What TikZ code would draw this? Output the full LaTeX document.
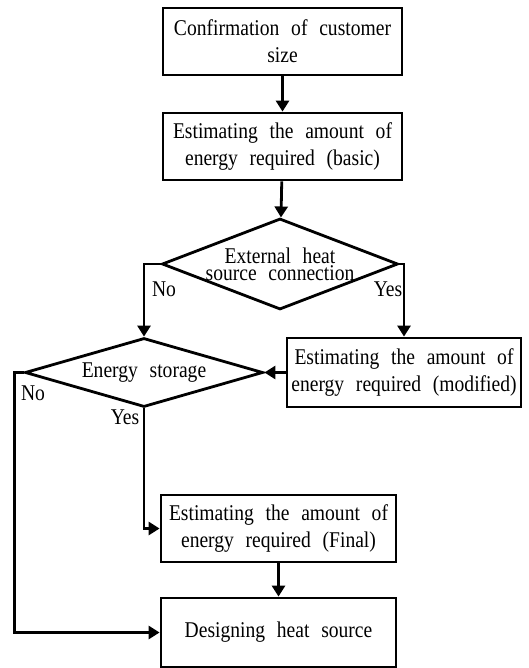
\documentclass[tikz,border=0pt]{standalone}
\usepackage{fontspec}
\setmainfont[WordSpace=2.4,FakeStretch=0.87]{Liberation Serif}
\usetikzlibrary{calc,arrows.meta,shapes.geometric}
\newcommand{\flowfont}{\fontsize{22.5}{27}\selectfont}
\tikzset{
  flowbox/.style={draw,line width=2.8pt,inner sep=0pt,align=center,font=\flowfont},
  decision/.style={draw,diamond,line width=2.8pt,inner sep=0pt,aspect=2},
  flowarrow/.style={line width=2.8pt,-{Triangle[length=11pt,width=13pt]}},
  answer/.style={font=\flowfont}
}

\begin{document}
\begin{tikzpicture}[x=1pt,y=-1pt]
        \useasboundingbox (0,0) rectangle (529,668);

        \node[flowbox,minimum width=239pt,minimum height=67pt] (size) at (282.5,41.5)
            {Confirmation of customer\\size};
        \node[flowbox,minimum width=239pt,minimum height=67pt] (basic) at (282.5,146.5)
            {Estimating the amount of\\energy required (basic)};
        \node[decision,minimum width=236pt,minimum height=91pt,
              label={[font=\fontsize{22.5}{17}\selectfont,align=center]center:External heat\\source connection}]
            (external) at (280,264) {};
        \node[flowbox,minimum width=234pt,minimum height=69pt] (modified) at (404,372.5)
            {Estimating the amount of\\energy required (modified)};
        \node[decision,minimum width=238pt,minimum height=69pt,
              label={[font=\flowfont]center:Energy storage}]
            (storage) at (144,372.5) {};
        \node[flowbox,minimum width=235pt,minimum height=67pt] (final) at (278.5,528.5)
            {Estimating the amount of\\energy required (Final)};
        \node[flowbox,minimum width=235pt,minimum height=69pt] (design) at (278.5,632.5)
            {Designing heat source};

        \draw[flowarrow] (size) -- (basic);
        \draw[flowarrow] (basic) -- (external);
        \draw[flowarrow] (external.west) -| (storage.north);
        \draw[flowarrow] (external.east) -| (modified.north);
        \draw[flowarrow] (modified) -- (storage.east);
        \draw[flowarrow] (storage.south) |- (final.west);
        \draw[flowarrow] (storage.west) -- ++(-9,0) |- (design.west);
        \draw[flowarrow] (final) -- (design);

        \node[answer] (noext) at (164,289) {No};
        \node[answer] (yesext) at (388,289) {Yes};
        \node[answer] (nostore) at (33,393) {No};
        \node[answer] (yesstore) at (125,417) {Yes};

    \end{tikzpicture}
\end{document}
